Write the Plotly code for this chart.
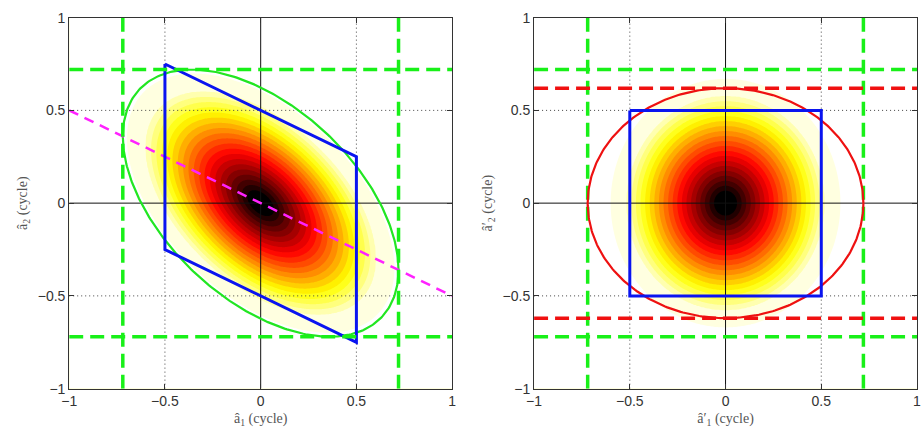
import numpy as np
import plotly.graph_objects as go
from plotly.subplots import make_subplots

# ---------------- data ----------------
tick_vals = [-1, -0.5, 0, 0.5, 1]
tick_text = ["\u22121", "\u22120.5", "0", "0.5", "1"]
grid_vals = [-0.5, 0.5]
zero_vals = [0]

# left panel: original (correlated) ambiguities
left_extent = [0.72, 0.72]          # half-widths of the green ellipse bounding box
left_rho = -0.5                     # correlation
left_fill_ratio = 0.97              # outer filled contour relative to green ellipse
left_pullin_x = [-0.5, 0.5, 0.5, -0.5, -0.5]
left_pullin_y = [0.75, 0.25, -0.75, -0.25, 0.75]
cond_line_x = [-1, 1]
cond_line_y = [0.5, -0.5]
green_levels = [-0.72, 0.72]

# right panel: decorrelated ambiguities
right_ellipse_axes = [0.72, 0.62]   # red ellipse semi-axes
right_fill_axes = [0.60, 0.67]      # outer filled contour semi-axes
right_box_x = [-0.5, 0.5, 0.5, -0.5, -0.5]
right_box_y = [0.5, 0.5, -0.5, -0.5, 0.5]
red_levels = [-0.62, 0.62]

# contour levels (normalised distance); outermost band is wide (pale)
lev_start, lev_size, lev_knee = 0.1, 0.04, 0.86
top_t = 0.97

# ---------------- helpers ----------------
def hot(t):
    r = min(max(t / 0.375, 0), 1)
    g = min(max((t - 0.375) / 0.375, 0), 1)
    b = min(max((t - 0.75) / 0.25, 0), 1)
    return "rgb(%d,%d,%d)" % (round(255 * r), round(255 * g), round(255 * b))

lev_end = lev_knee + lev_size
nc = int(round((lev_end - lev_start) / lev_size)) + 1
cscale = []
for k in range(nc):
    cscale.append([k / nc, hot(top_t * k / (nc - 1))])
cscale.append([1.0, "rgb(255,255,255)"])

def warp(r):
    return np.where(r <= lev_knee, r, lev_knee + (r - lev_knee) * lev_size / (1 - lev_knee))

g = np.linspace(-1, 1, 321)
X, Y = np.meshgrid(g, g)

s1, s2 = left_extent
S = np.array([[s1 * s1, left_rho * s1 * s2], [left_rho * s1 * s2, s2 * s2]])
Si = np.linalg.inv(S)
D_left = warp(np.sqrt(Si[0, 0] * X**2 + 2 * Si[0, 1] * X * Y + Si[1, 1] * Y**2) / left_fill_ratio)
D_right = warp(np.sqrt((X / right_fill_axes[0])**2 + (Y / right_fill_axes[1])**2))

th = np.linspace(0, 2 * np.pi, 361)
L = np.linalg.cholesky(S)
ell_left = L @ np.vstack([np.cos(th), np.sin(th)])
ell_right_x = right_ellipse_axes[0] * np.cos(th)
ell_right_y = right_ellipse_axes[1] * np.sin(th)

fig = make_subplots(rows=1, cols=2)

contour_common = dict(
    x=g, y=g, colorscale=cscale, showscale=False,
    contours=dict(start=lev_start, end=lev_end, size=lev_size, coloring="fill", showlines=False),
    line=dict(width=0), hoverinfo="skip",
)
fig.add_trace(go.Contour(z=D_left, **contour_common), row=1, col=1)
fig.add_trace(go.Contour(z=D_right, **contour_common), row=1, col=2)

GREEN = "#18f018"
gdash = "14px,7px"

def seg(xs, ys, color, width, dash, row, col):
    fig.add_trace(go.Scatter(x=xs, y=ys, mode="lines",
                             line=dict(color=color, width=width, dash=dash),
                             showlegend=False, hoverinfo="skip"), row=row, col=col)

# grid (dotted) and zero lines drawn over the filled contours
for col in (1, 2):
    for v in grid_vals:
        seg([v, v], [-1, 1], "#444444", 1, "1px,3px", 1, col)
        seg([-1, 1], [v, v], "#444444", 1, "1px,3px", 1, col)
    for v in zero_vals:
        seg([v, v], [-1, 1], "#111111", 1, "solid", 1, col)
        seg([-1, 1], [v, v], "#111111", 1, "solid", 1, col)

# left panel overlays
seg(ell_left[0], ell_left[1], "#22e622", 2.2, "solid", 1, 1)
seg(cond_line_x, cond_line_y, "#ff22ff", 2.5, "10px,7px", 1, 1)
seg(left_pullin_x, left_pullin_y, "#0a14f0", 3, "solid", 1, 1)
for v in green_levels:
    seg([v, v], [-1, 1], GREEN, 3.5, gdash, 1, 1)
    seg([-1, 1], [v, v], GREEN, 3.5, gdash, 1, 1)

# right panel overlays
for v in green_levels:
    seg([v, v], [-1, 1], GREEN, 3.5, gdash, 1, 2)
    seg([-1, 1], [v, v], GREEN, 3.5, gdash, 1, 2)
for v in red_levels:
    seg([-1, 1], [v, v], "#f01010", 3.5, gdash, 1, 2)
seg(ell_right_x, ell_right_y, "#ee1111", 2.2, "solid", 1, 2)
seg(right_box_x, right_box_y, "#0a14f0", 3, "solid", 1, 2)

axis_common = dict(
    range=[-1, 1], tickvals=tick_vals, ticktext=tick_text,
    showgrid=False, zeroline=False,
    showline=True, linecolor="#333333", linewidth=1, mirror="allticks",
    ticks="inside", ticklen=5, tickcolor="#333333",
    tickfont=dict(family="Liberation Sans, Arial", size=14, color="#333333"),
    layer="above traces", fixedrange=True,
)
title_font = dict(family="Liberation Serif, Times New Roman, serif", size=14, color="#555555")

fig.update_xaxes(**axis_common)
fig.update_yaxes(**axis_common)
fig.update_layout(
    xaxis=dict(domain=[62 / 922, 450 / 922], title=dict(text="\u00e2<sub>1</sub> (cycle)", font=title_font, standoff=4)),
    xaxis2=dict(domain=[533 / 922, 921 / 922], title=dict(text="\u00e2\u2032<sub>1</sub> (cycle)", font=title_font, standoff=4)),
    yaxis=dict(domain=[45 / 440, 430 / 440], title=dict(text="\u00e2<sub>2</sub> (cycle)", font=title_font, standoff=6)),
    yaxis2=dict(domain=[45 / 440, 430 / 440], title=dict(text="\u00e2\u2032<sub>2</sub> (cycle)", font=title_font, standoff=6)),
    width=922, height=440,
    margin=dict(l=0, r=0, t=0, b=0),
    paper_bgcolor="white", plot_bgcolor="white",
    showlegend=False,
)

fig.write_html("out.html")
